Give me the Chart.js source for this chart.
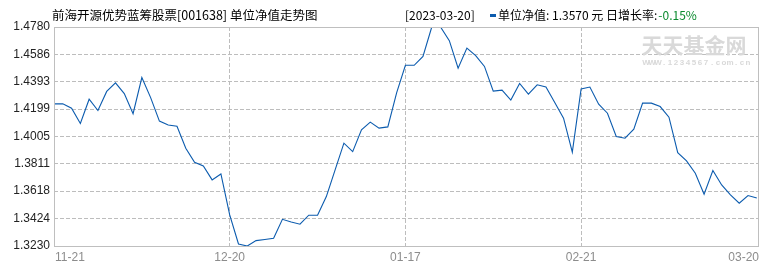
<!DOCTYPE html>
<html>
<head>
<meta charset="utf-8">
<script src="https://cdn.jsdelivr.net/npm/chart.js@4.4.0/dist/chart.umd.min.js"></script>
<style>
  body { margin: 0; background: #fff; }
  canvas { display: block; }
</style>
</head>
<body>
<canvas id="nav-chart" width="770" height="270"></canvas>
<script>
// unit NAV, one value per trading day
const nav = [
  1.4236, 1.4236, 1.4205, 1.4097, 1.4269, 1.4189, 1.4324, 1.4385, 1.4309, 1.4166,
  1.4422, 1.4280, 1.4114, 1.4086, 1.4077, 1.3922, 1.3822, 1.3797, 1.3698, 1.3740,
  1.3450, 1.3244, 1.3230, 1.3268, 1.3276, 1.3285, 1.3419, 1.3400, 1.3384, 1.3448,
  1.3448, 1.3580, 1.3769, 1.3958, 1.3898, 1.4052, 1.4107, 1.4064, 1.4073, 1.4314,
  1.4509, 1.4509, 1.4572, 1.4780, 1.4780, 1.4683, 1.4489, 1.4631, 1.4577, 1.4501,
  1.4326, 1.4333, 1.4263, 1.4380, 1.4305, 1.4371, 1.4355, 1.4246, 1.4135, 1.3894,
  1.4341, 1.4355, 1.4234, 1.4170, 1.4005, 1.3993, 1.4057, 1.4241, 1.4241, 1.4217,
  1.4142, 1.3891, 1.3832, 1.3745, 1.3597, 1.3764, 1.3662, 1.3592, 1.3533, 1.3587,
  1.3570
];
const dateLabels = ["11-21", "12-20", "01-17", "02-21", "03-20"];
const dateIdx = [0, 20, 40, 60, 80];
const yTicks = [1.3230, 1.3424, 1.3618, 1.3811, 1.4005, 1.4199, 1.4393, 1.4586, 1.4780];

const titleText = "前海开源优势蓝筹股票[001638] 单位净值走势图";
const lastDate = "[2023-03-20]";
const infoText = "单位净值: 1.3570 元 日增长率:";
const changeText = "-0.15%";

const gridColor = "#bdbdbd";
const lineColor = "#0b5bae";

const decor = {
  id: "decor",
  beforeDraw(chart) {
    const ctx = chart.ctx;
    ctx.save();
    ctx.fillStyle = "#fff";
    ctx.fillRect(0, 0, chart.width, chart.height);
    ctx.restore();
  },
  beforeDatasetsDraw(chart) {
    const ctx = chart.ctx;
    const a = chart.chartArea;
    ctx.save();
    // watermark
    ctx.fillStyle = "#d9d9d9";
    ctx.font = "bold 21px 'Noto Sans CJK SC'";
    ctx.textAlign = "center";
    ctx.textBaseline = "middle";
    ctx.fillText("天天基金网", a.right - 65, 45);
    ctx.font = "bold 8px 'Liberation Sans'";
    const url = "WWW.1234567.com.cn";
    for (let i = 0; i < url.length; i++) {
      ctx.fillText(url[i], a.right - 116 + i * 6 + 3, 63);
    }
    ctx.restore();
  },
  afterDraw(chart) {
    const ctx = chart.ctx;
    const a = chart.chartArea;
    const xs = chart.scales.x;
    ctx.save();
    // plot box
    ctx.strokeStyle = "#bfbfbf";
    ctx.lineWidth = 1;
    ctx.strokeRect(Math.round(a.left) + 0.5, Math.round(a.top) + 0.5,
      Math.round(a.right - a.left) - 1, Math.round(a.bottom - a.top));

    // title line
    ctx.textBaseline = "middle";
    ctx.textAlign = "left";
    ctx.fillStyle = "#000";
    ctx.font = "12.5px 'Noto Sans CJK SC'";
    ctx.fillText(titleText, 52, 15);

    ctx.font = "12px 'Noto Sans CJK SC'";
    ctx.fillText(lastDate, 405, 15);
    ctx.fillStyle = lineColor;
    ctx.fillRect(490, 14, 6, 3);
    ctx.fillStyle = "#000";
    ctx.fillText(infoText, 498, 15);
    const w = ctx.measureText(infoText).width;
    ctx.fillStyle = "#0a8a2e";
    ctx.fillText(changeText, 498 + w + 1, 15);

    // date labels under the axis
    ctx.fillStyle = "#8c8c8c";
    ctx.font = "12px 'Liberation Sans'";
    dateLabels.forEach((lab, i) => {
      const px = xs.getPixelForValue(dateIdx[i]);
      if (i === 0) ctx.textAlign = "left";
      else if (i === dateLabels.length - 1) ctx.textAlign = "right";
      else ctx.textAlign = "center";
      const x = i === 0 ? a.left + 1 : (i === dateLabels.length - 1 ? a.right : px);
      ctx.fillText(lab, x, 258);
    });
    ctx.restore();
  }
};

new Chart(document.getElementById("nav-chart"), {
  type: "line",
  data: {
    datasets: [{
      label: "单位净值",
      data: nav.map((v, i) => ({ x: i, y: v })),
      borderColor: lineColor,
      borderWidth: 1.1,
      pointRadius: 0,
      tension: 0,
      fill: false
    }]
  },
  options: {
    responsive: false,
    animation: false,
    layout: { padding: { left: 0, right: 11, top: 27, bottom: 0 } },
    plugins: {
      legend: { display: false },
      tooltip: { enabled: false }
    },
    scales: {
      x: {
        type: "linear",
        min: 0,
        max: 80.25,
        afterBuildTicks: s => { s.ticks = dateIdx.map(v => ({ value: v })); },
        afterFit: s => { s.height = 24; },
        ticks: { display: false },
        grid: {
          drawTicks: false,
          color: c => (c.tick && c.tick.value > 0 && c.tick.value < 80) ? gridColor : "rgba(0,0,0,0)"
        },
        border: { display: false, dash: [4, 2] }
      },
      y: {
        min: 1.3230,
        max: 1.4780,
        afterBuildTicks: s => { s.ticks = yTicks.map(v => ({ value: v })); },
        afterFit: s => { s.width = 54; },
        ticks: {
          padding: 4,
          color: "#222",
          font: { family: "'Liberation Sans'", size: 12 },
          callback: v => v.toFixed(4)
        },
        grid: {
          drawTicks: false,
          color: c => (c.tick && c.tick.value > 1.3231 && c.tick.value < 1.4779) ? gridColor : "rgba(0,0,0,0)"
        },
        border: { display: false, dash: [4, 2] }
      }
    }
  },
  plugins: [decor]
});
</script>
</body>
</html>
